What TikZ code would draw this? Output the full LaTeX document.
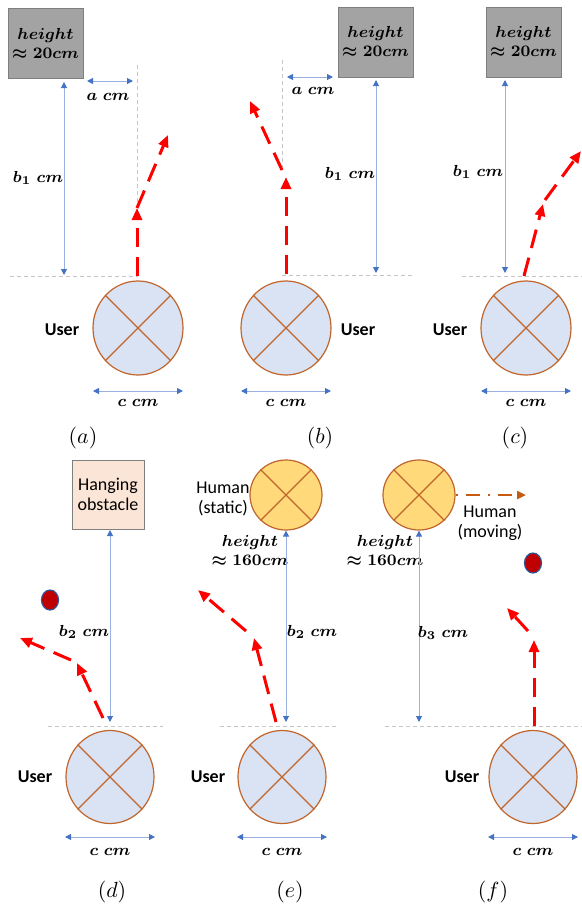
\documentclass[tikz,border=0pt]{standalone}
\usepackage{amsmath}
\usepackage{fontspec}
\newfontfamily\calibri{Carlito}
\usepackage{tikz}
\usetikzlibrary{shapes.geometric,arrows.meta}
\definecolor{userblue}{HTML}{DAE3F3}
\definecolor{rimbrown}{HTML}{C0652B}
\definecolor{humanyellow}{HTML}{FFD97A}
\definecolor{obsgray}{HTML}{A3A3A3}
\definecolor{obsedge}{HTML}{7F7F7F}
\definecolor{hangpeach}{HTML}{FBE5D6}
\definecolor{dimblue}{HTML}{4472C4}
\definecolor{walkred}{HTML}{FF0000}
\definecolor{ballred}{HTML}{C00000}
\definecolor{ballblue}{HTML}{2F5597}
\definecolor{moveorange}{HTML}{C55A11}

\begin{document}
\begin{tikzpicture}[x=0.5pt,y=-0.5pt,
  obst/.style={rectangle,draw=obsedge,fill=obsgray,minimum width=37.5pt,minimum height=35pt,inner sep=0pt,align=center,font=\fontsize{7.8}{9.5}\selectfont},
  hangbox/.style={rectangle,draw=obsedge,fill=hangpeach,minimum width=36pt,minimum height=34.5pt,inner sep=0pt,align=center,font=\calibri\fontsize{9}{10}\selectfont},
  user/.style={ellipse,draw=rimbrown,fill=userblue,line width=0.6pt,inner sep=0pt,minimum width=45pt,minimum height=47pt},
  human/.style={ellipse,draw=rimbrown,fill=humanyellow,line width=0.6pt,inner sep=0pt,minimum width=36pt,minimum height=35pt},
  rim/.style={draw=rimbrown,line width=0.6pt},
  ball/.style={ellipse,draw=ballblue,fill=ballred,line width=0.6pt,inner sep=0pt,minimum width=8.5pt,minimum height=10pt},
  dim/.style={{Triangle[length=3pt,width=3pt,color=dimblue]}-{Triangle[length=3pt,width=3pt,color=dimblue]},draw=dimblue!55,line width=0.5pt},
  guide/.style={draw=gray!45,line width=0.4pt,dash pattern=on 2pt off 1.5pt},
  walk/.style={-{Triangle[length=6pt,width=5pt]},draw=walkred,line width=1.5pt,dash pattern=on 9.5pt off 5pt},
  moving/.style={-{Triangle[length=4.5pt,width=4pt]},draw=moveorange,line width=1.2pt,dash pattern=on 1pt off 4pt on 7pt off 4pt},
  lbl/.style={font=\fontsize{8.3}{9.5}\selectfont,align=center,inner sep=1pt},
  txt/.style={font=\calibri\fontsize{9}{10}\selectfont,align=center,inner sep=1pt},
  capt/.style={font=\fontsize{11}{13}\selectfont,inner sep=1pt}
]
\useasboundingbox (0,0) rectangle (582,906);

% Users, top row
\foreach \n/\x/\ux/\cx in {a/138/62/83, b/286/358/320, c/526/450/515} {
  \node[user] (u\n) at (\x,328) {};
  \draw[rim] (u\n.45) -- (u\n.225) (u\n.135) -- (u\n.315);
  \node[txt,font=\calibri\bfseries\fontsize{9}{10}\selectfont] (t\n) at (\ux,330) {User};
  \coordinate (cl\n) at (\x-45,391);
  \coordinate (cr\n) at (\x+45,391);
  \draw[dim] (cl\n) -- (cr\n);
  \node[lbl] (c\n) at (\x,403) {$\boldsymbol{c\;cm}$};
  \node[capt] (cap\n) at (\cx,438) {$(\n)$};
}

% Users, bottom row
\foreach \n/\x/\ux/\cx in {d/110/35/112, e/282/208/290, f/533/462/493} {
  \node[user,minimum width=44pt,minimum height=46.5pt] (u\n) at (\x,777) {};
  \draw[rim] (u\n.45) -- (u\n.225) (u\n.135) -- (u\n.315);
  \node[txt,font=\calibri\bfseries\fontsize{9}{10}\selectfont] (t\n) at (\ux,777) {User};
  \coordinate (cl\n) at (\x-45,837);
  \coordinate (cr\n) at (\x+45,837);
  \draw[dim] (cl\n) -- (cr\n);
  \node[lbl] (c\n) at (\x,852) {$\boldsymbol{c\;cm}$};
  \node[capt] (cap\n) at (\cx,892) {$(\n)$};
}

% Obstacles 20cm
\node[obst] (boxa) at (45.5,43.5) {$\boldsymbol{height}$\\$\boldsymbol{\approx 20cm}$};
\node[obst] (boxb) at (375.5,42) {$\boldsymbol{height}$\\$\boldsymbol{\approx 20cm}$};
\node[obst] (boxc) at (523.5,42) {$\boldsymbol{height}$\\$\boldsymbol{\approx 20cm}$};

% Panel (a)
\coordinate (ga1) at (10,276);  \coordinate (ga2) at (138,276);
\coordinate (ga3) at (137,65);  \coordinate (ga4) at (137,207);
\draw[guide] (ga1) -- (ga2);
\draw[guide] (ga3) -- (ga4);
\coordinate (aa1) at (87,81);   \coordinate (aa2) at (133,81);
\draw[dim] (aa1) -- (aa2);
\node[lbl] (la) at (108,97) {$\boldsymbol{a\;cm}$};
\coordinate (ba1) at (64,82);   \coordinate (ba2) at (64,275);
\draw[dim] (ba1) -- (ba2);
\node[lbl] (lba) at (38,178) {$\boldsymbol{b_1\;cm}$};
\coordinate (ra0) at (137,276); \coordinate (ra1) at (137,208); \coordinate (ra2) at (168,135);
\draw[walk] (ra0) -- (ra1);
\draw[walk] (ra1) -- (ra2);

% Panel (b)
\coordinate (gb1) at (282,275); \coordinate (gb2) at (413,275);
\coordinate (gb3) at (282,60);  \coordinate (gb4) at (282,170);
\draw[guide] (gb1) -- (gb2);
\draw[guide] (gb3) -- (gb4);
\coordinate (ab1) at (287,77);  \coordinate (ab2) at (333,77);
\draw[dim] (ab1) -- (ab2);
\node[lbl] (lb) at (313,91) {$\boldsymbol{a\;cm}$};
\coordinate (bb1) at (376,80);  \coordinate (bb2) at (376,273);
\draw[dim] (bb1) -- (bb2);
\node[lbl] (lbb) at (350,174) {$\boldsymbol{b_1\;cm}$};
\coordinate (rb0) at (286,274); \coordinate (rb1) at (286,177);
\coordinate (rb2) at (282,170); \coordinate (rb3) at (250,101);
\draw[walk] (rb0) -- (rb1);
\draw[walk] (rb2) -- (rb3);

% Panel (c)
\coordinate (gc1) at (462,276); \coordinate (gc2) at (582,276);
\draw[guide] (gc1) -- (gc2);
\coordinate (bc1) at (505,80);  \coordinate (bc2) at (505,273);
\draw[dim] (bc1) -- (bc2);
\node[lbl] (lbc) at (478,172) {$\boldsymbol{b_1\;cm}$};
\coordinate (rc0) at (524,276); \coordinate (rc1) at (543,204);
\coordinate (rc2) at (545,200); \coordinate (rc3) at (581,151);
\draw[walk] (rc0) -- (rc1);
\draw[walk] (rc2) -- (rc3);

% Panel (d)
\node[hangbox] (hang) at (108,494.5) {Hanging\\obstacle};
\node[ball] (balld) at (50,600) {};
\coordinate (gd1) at (48,726);  \coordinate (gd2) at (163,726);
\draw[guide] (gd1) -- (gd2);
\coordinate (bd1) at (110,530); \coordinate (bd2) at (110,722);
\draw[dim] (bd1) -- (bd2);
\node[lbl] (lbd) at (84,632) {$\boldsymbol{b_2\;cm}$};
\coordinate (rd0) at (103,718); \coordinate (rd1) at (77,663);
\coordinate (rd2) at (71,660);  \coordinate (rd3) at (20,638);
\draw[walk] (rd0) -- (rd1);
\draw[walk] (rd2) -- (rd3);

% Panel (e)
\node[human] (hse) at (286,495) {};
\draw[rim] (hse.45) -- (hse.225) (hse.135) -- (hse.315);
\node[txt] (hst) at (223,499) {Human\\(static)};
\node[lbl] (hhe) at (250,551) {$\boldsymbol{height}$\\$\boldsymbol{\approx 160cm}$};
\coordinate (ge1) at (220,726); \coordinate (ge2) at (337,726);
\draw[guide] (ge1) -- (ge2);
\coordinate (be2) at (286,722);
\draw[dim] (hse.south) -- (be2);
\node[lbl] (lbe) at (312,632) {$\boldsymbol{b_2\;cm}$};
\coordinate (re0) at (276,722); \coordinate (re1) at (254,638);
\coordinate (re2) at (246,631); \coordinate (re3) at (198,590);
\draw[walk] (re0) -- (re1);
\draw[walk] (re2) -- (re3);

% Panel (f)
\node[human] (hmf) at (419,495) {};
\draw[rim] (hmf.45) -- (hmf.225) (hmf.135) -- (hmf.315);
\coordinate (mf) at (526,495);
\draw[moving] (hmf.east) -- (mf);
\node[txt] (hmt) at (490,523) {Human\\(moving)};
\node[ball] (ballf) at (533,563) {};
\node[lbl] (hhf) at (385,551) {$\boldsymbol{height}$\\$\boldsymbol{\approx 160cm}$};
\coordinate (gf1) at (385,726); \coordinate (gf2) at (582,726);
\draw[guide] (gf1) -- (gf2);
\coordinate (bf2) at (419,722);
\draw[dim] (hmf.south) -- (bf2);
\node[lbl] (lbf) at (443,633) {$\boldsymbol{b_3\;cm}$};
\coordinate (rf0) at (534,726); \coordinate (rf1) at (534,640);
\coordinate (rf2) at (528,631); \coordinate (rf3) at (507,608);
\draw[walk] (rf0) -- (rf1);
\draw[walk] (rf2) -- (rf3);

\end{tikzpicture}
\end{document}
